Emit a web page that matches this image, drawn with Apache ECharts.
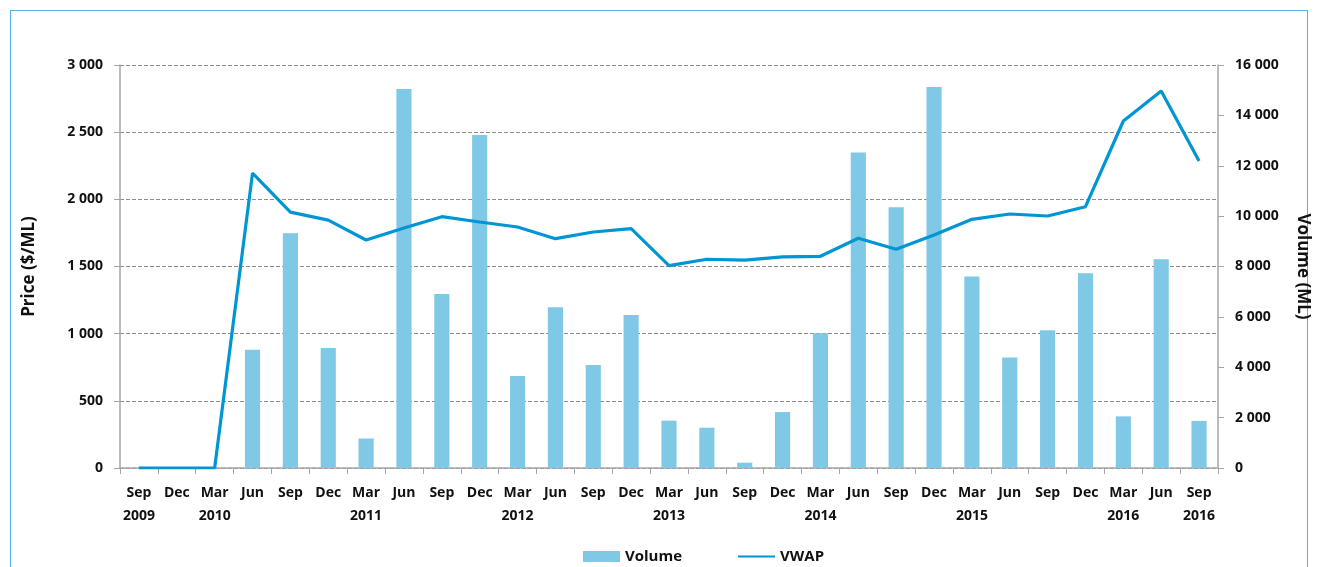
<!DOCTYPE html>
<html>
<head>
<meta charset="utf-8">
<script src="https://cdn.jsdelivr.net/npm/echarts@6/dist/echarts.min.js"></script>
<style>
    html, body { margin: 0; padding: 0; background: #fff; }
    #frame {
        position: absolute; left: 10px; top: 10px; width: 1298px; height: 600px;
        border: 1.5px solid #4db8e6; box-sizing: border-box;
    }
    #chart { position: absolute; left: 0; top: 0; width: 1319px; height: 567px; }
</style>
</head>
<body>
<div id="frame"></div>
<div id="chart"></div>
<script>
// quarters Sep 2009 .. Sep 2016
const quarters = ['Sep\n2009', 'Dec', 'Mar\n2010', 'Jun', 'Sep', 'Dec', 'Mar\n2011', 'Jun', 'Sep', 'Dec',
    'Mar\n2012', 'Jun', 'Sep', 'Dec', 'Mar\n2013', 'Jun', 'Sep', 'Dec', 'Mar\n2014', 'Jun', 'Sep', 'Dec',
    'Mar\n2015', 'Jun', 'Sep', 'Dec', 'Mar\n2016', 'Jun', 'Sep\n2016']

// volume (ML)
const volume = [0, 0, 0, 4690, 9320, 4760, 1170, 15050, 6910, 13220,
    3650, 6380, 4090, 6070, 1880, 1600, 210, 2220, 5350, 12530, 10350, 15130,
    7600, 4390, 5470, 7730, 2050, 8290, 1870]

// VWAP ($/ML)
const vwap = [0, 0, 0, 2195, 1905, 1845, 1697, 1787, 1871, 1831,
    1794, 1707, 1757, 1782, 1506, 1554, 1548, 1571, 1576, 1710, 1628, 1735,
    1851, 1891, 1876, 1945, 2583, 2806, 2285]

const priceTicks = { min: 0, max: 3000, interval: 500 }
const volumeTicks = { min: 0, max: 16000, interval: 2000 }

const fmt = v => String(v).replace(/\B(?=(\d{3})+(?!\d))/g, ' ')

const FONT = 'Open Sans'
const labelStyle = { color: '#111', fontWeight: 'bold', fontSize: 14, fontFamily: FONT }
const nameStyle = { ...labelStyle, fontSize: 17 }
const axisGray = '#a6a6a6'

const chart = echarts.init(document.getElementById('chart'), null, { renderer: 'canvas' })
chart.setOption({
    animation: false,
    grid: { left: 120, right: 101, top: 65, bottom: 99 },
    legend: {
        top: 549,
        left: 583,
        padding: 0,
        itemGap: 55,
        itemWidth: 37,
        itemHeight: 11,
        textStyle: { ...labelStyle, fontSize: 15 },
        data: [
            { name: 'Volume', icon: 'rect' },
            { name: 'VWAP', itemStyle: { opacity: 0 } },
        ],
    },
    xAxis: [{
        type: 'category',
        data: quarters,
        boundaryGap: true,
        axisLine: { lineStyle: { color: axisGray, width: 1.5 } },
        axisTick: { show: true, length: 6, lineStyle: { color: axisGray } },
        axisLabel: { ...labelStyle, interval: 0, margin: 14, lineHeight: 23 },
    }],
    yAxis: [{
        type: 'value',
        ...priceTicks,
        name: 'Price ($/ML)',
        nameLocation: 'middle',
        nameGap: 82,
        nameRotate: 90,
        nameTextStyle: nameStyle,
        axisLine: { show: true, lineStyle: { color: axisGray, width: 1.5 } },
        axisTick: { show: true, length: 6, lineStyle: { color: axisGray } },
        axisLabel: { ...labelStyle, margin: 17, formatter: fmt },
        splitLine: { lineStyle: { color: '#8c8c8c', type: [4, 2] } },
    }, {
        type: 'value',
        ...volumeTicks,
        position: 'right',
        name: 'Volume (ML)',
        nameLocation: 'middle',
        nameGap: 76,
        nameRotate: -90,
        nameTextStyle: nameStyle,
        axisLine: { show: true, lineStyle: { color: axisGray, width: 1.5 } },
        axisTick: { show: true, length: 6, lineStyle: { color: axisGray } },
        axisLabel: { ...labelStyle, margin: 17, formatter: fmt },
        splitLine: { show: false },
    }],
    series: [{
        name: 'Volume',
        type: 'bar',
        yAxisIndex: 1,
        barWidth: '40%',
        itemStyle: { color: '#7fc8e6' },
        data: volume,
    }, {
        name: 'VWAP',
        type: 'line',
        yAxisIndex: 0,
        symbol: 'none',
        lineStyle: { color: '#0095d3', width: 3.2 },
        itemStyle: { color: '#0095d3' },
        data: vwap,
    }],
})
</script>
</body>
</html>
